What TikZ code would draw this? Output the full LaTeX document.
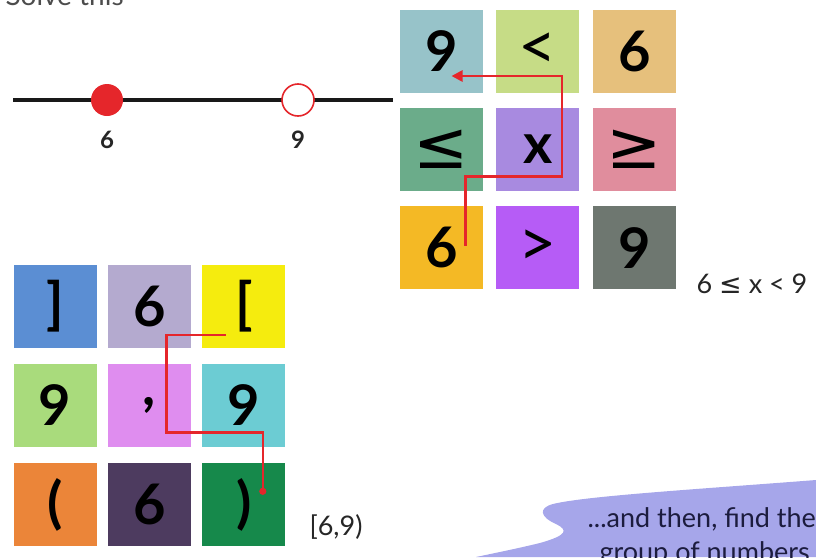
\documentclass[tikz,border=0pt]{standalone}
\usepackage{fontspec}
\setmainfont{Lato}
\newfontfamily\symfont{DejaVu Sans}
\usepackage{xcolor}
\usetikzlibrary{arrows.meta, positioning}

% cell colours, top grid
\definecolor{tA}{HTML}{97C3C9}
\definecolor{tB}{HTML}{C6DC86}
\definecolor{tC}{HTML}{E6C07C}
\definecolor{tD}{HTML}{6BAC8A}
\definecolor{tE}{HTML}{A88AE0}
\definecolor{tF}{HTML}{E08D9D}
\definecolor{tG}{HTML}{F4B925}
\definecolor{tH}{HTML}{B65CF6}
\definecolor{tI}{HTML}{6E7770}
% cell colours, bottom grid
\definecolor{bA}{HTML}{5B8ED3}
\definecolor{bB}{HTML}{B4AACF}
\definecolor{bC}{HTML}{F5EC0E}
\definecolor{bD}{HTML}{A9DB7C}
\definecolor{bE}{HTML}{DF8DEF}
\definecolor{bF}{HTML}{6CCCD3}
\definecolor{bG}{HTML}{EB8539}
\definecolor{bH}{HTML}{4D3B5F}
\definecolor{bI}{HTML}{16894B}
\definecolor{routered}{HTML}{E5262B}
\definecolor{blobfill}{HTML}{A6A6EA}
\definecolor{blobtext}{HTML}{1C1C3E}

\begin{document}
\begin{tikzpicture}[
    x=1pt, y=-1pt,
    cell/.style={minimum size=83pt, inner sep=0pt, text=black,
                 font=\fontsize{56}{56}\selectfont\bfseries},
    relcell/.style={cell, font=\fontsize{66}{66}\selectfont},
    numlbl/.style={font=\fontsize{24}{24}\selectfont\bfseries, text=black!85},
    note/.style={font=\fontsize{27}{27}\selectfont, text=black!85},
    dot/.style={circle, minimum size=32pt, inner sep=0pt},
    route/.style={routered, line width=2.6pt},
    blob/.style={fill=blobfill}
]
\useasboundingbox (0,0) rectangle (816,557);
\clip (0,0) rectangle (816,557);

\node[font=\fontsize{28}{28}\selectfont, anchor=base west, text=black!70] (title) at (2,5) {Solve this};

% number line
\coordinate (lineL) at (13,100);
\coordinate (lineR) at (393,100);
\draw[line width=3.5pt, black!90] (lineL) -- (lineR);
\node[dot, fill=routered]                   (p6) at (107,100) {};
\node[dot, fill=white, draw=routered, line width=1.6pt] (p9) at (298,100) {};
\node[numlbl, below=11pt of p6] (l6) {6};
\node[numlbl, below=11pt of p9] (l9) {9};

% top grid
\node[cell, fill=tA]                         (t11) at (441.5,51) {9};
\node[relcell, fill=tB, right=13pt of t11]   (t12) {<};
\node[cell, fill=tC, right=13pt of t12]      (t13) {6};
\node[relcell, fill=tD, below=15pt of t11]   (t21) {\symfont ≤};
\node[cell, fill=tE, right=13pt of t21]      (t22) {x};
\node[relcell, fill=tF, right=13pt of t22]   (t23) {\symfont ≥};
\node[cell, fill=tG, below=15pt of t21]      (t31) {6};
\node[relcell, fill=tH, right=13pt of t31]   (t32) {>};
\node[cell, fill=tI, right=13pt of t32]      (t33) {9};

\draw[route, -{Triangle[length=11pt, width=11pt]}]
  ([xshift=24pt, yshift=2pt]t31.center) |- ([xshift=24pt, yshift=-27pt]t22.center)
  -- ([xshift=24pt, yshift=-25pt]t12.center) -- ([xshift=10pt, yshift=-25pt]t11.center);

\node[note] (ineq) at (752,284) {6 {\symfont ≤} x < 9};

% bottom grid
\node[cell, fill=bA]                      (b11) at (55,306) {]};
\node[cell, fill=bB, right=11pt of b11]   (b12) {6};
\node[cell, fill=bC, right=11pt of b12]   (b13) {[};
\node[cell, fill=bD, below=16pt of b11]   (b21) {9};
\node[cell, fill=bE, right=11pt of b21]   (b22) {,};
\node[cell, fill=bF, right=11pt of b22]   (b23) {9};
\node[cell, fill=bG, below=16pt of b21]   (b31) {(};
\node[cell, fill=bH, right=11pt of b31]   (b32) {6};
\node[cell, fill=bI, right=11pt of b32]   (b33) {)};

\draw[route, -{Circle[length=7pt]}]
  ([xshift=-18pt, yshift=-29pt]b13.center) -| ([xshift=17pt, yshift=-27pt]b22.center)
  -| ([xshift=19pt, yshift=10pt]b33.center);

\node[note] (interval) at (336,527) {[6,9)};

% speech bubble
\fill[blob] (816,480) .. controls (700,489) and (585,496) .. (553,504)
  .. controls (538,508) and (540,517) .. (556,524)
  .. controls (568,530) and (568,535) .. (540,543)
  .. controls (515,549) and (495,553) .. (476,557)
  -- (816,557) -- cycle;
\node[font=\fontsize{27}{34}\selectfont, text=blobtext, align=left, anchor=north west]
  (bubbletext) at (584,504) {...and then, find the\\\hspace*{12pt}group of numbers};
\end{tikzpicture}
\end{document}
